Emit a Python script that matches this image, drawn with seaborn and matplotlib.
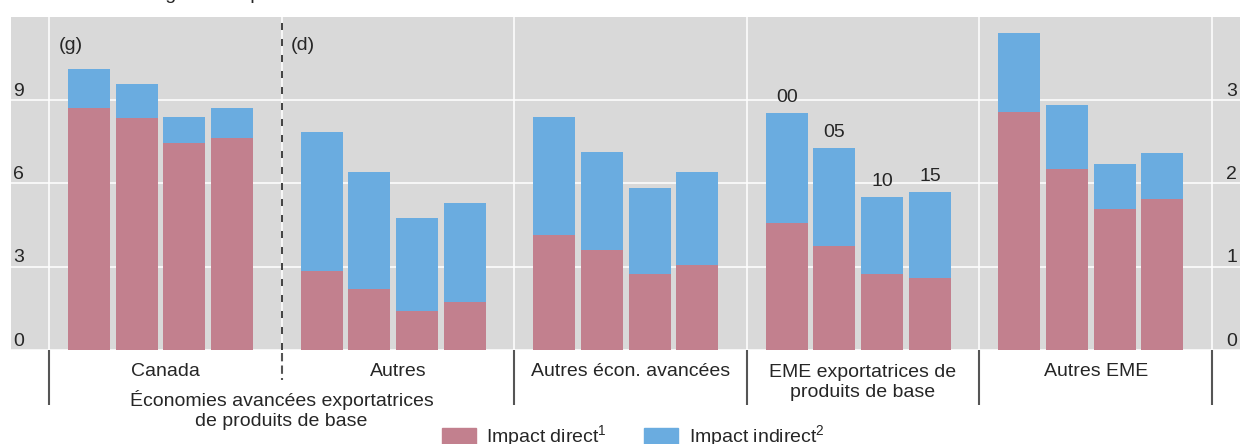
import numpy as np
import pandas as pd
import matplotlib
matplotlib.use("Agg")
import matplotlib.pyplot as plt
from matplotlib.patches import Patch
import seaborn as sns

# categories
groups = ["Canada", "Autres", "Autres écon. avancées",
          "EME exportatrices de\nproduits de base", "Autres EME"]
years = ["00", "05", "10", "15"]
sides = ["g", "d", "d", "d", "d"]  # Canada on left axis (g), others on right axis (d)

# values (percent)
direct = {
    "Canada": [8.71, 8.35, 7.46, 7.63],
    "Autres": [0.95, 0.73, 0.47, 0.58],
    "Autres écon. avancées": [1.38, 1.20, 0.91, 1.02],
    "EME exportatrices de\nproduits de base": [1.52, 1.25, 0.91, 0.87],
    "Autres EME": [2.86, 2.17, 1.69, 1.81],
}
indirect = {
    "Canada": [1.43, 1.22, 0.93, 1.08],
    "Autres": [1.67, 1.41, 1.12, 1.19],
    "Autres écon. avancées": [1.42, 1.18, 1.03, 1.12],
    "EME exportatrices de\nproduits de base": [1.33, 1.18, 0.93, 1.03],
    "Autres EME": [0.95, 0.77, 0.54, 0.56],
}
left_ticks = [0, 3, 6, 9]
right_ticks = [0, 1, 2, 3]

PINK = "#C2808E"
BLUE = "#6AACE0"
GRAY = "#D9D9D9"

sns.set_style("darkgrid", {"axes.facecolor": GRAY, "grid.color": "white"})
plt.rcParams["font.family"] = ["Liberation Sans", "DejaVu Sans"]
plt.rcParams["mathtext.fontset"] = "custom"
plt.rcParams["mathtext.rm"] = "Liberation Sans"
FS = 14
LSP = 1.23          # line spacing for two-line labels
LINE_PT = 14.8      # resulting gap between baselines, in points

# layout: one unit per bar, groups spaced GROUP_STEP apart
GROUP_STEP = 4.876
FIRST_OFF = 0.839

rows = []
for g, name in enumerate(groups):
    for i, yr in enumerate(years):
        rows.append({"group": name, "year": yr, "side": sides[g],
                     "pos": g * GROUP_STEP + i,
                     "direct": direct[name][i], "indirect": indirect[name][i]})
df = pd.DataFrame(rows)
df["total"] = df["direct"] + df["indirect"]

fig = plt.figure(figsize=(12.4, 4.44), dpi=100)
ax = fig.add_axes([11 / 1240, 1 - 350 / 444, 1229 / 1240, 333 / 444])
ax2 = ax.twinx()

for axis, side in [(ax, "g"), (ax2, "d")]:
    sub = df[df["side"] == side]
    sns.barplot(data=sub, x="pos", y="total", native_scale=True, orient="x",
                color=BLUE, width=0.88, saturation=1, linewidth=0,
                errorbar=None, ax=axis)
    sns.barplot(data=sub, x="pos", y="direct", native_scale=True, orient="x",
                color=PINK, width=0.88, saturation=1, linewidth=0,
                errorbar=None, ax=axis)
    axis.set_xlabel("")
    axis.set_ylabel("")
    for s in axis.spines.values():
        s.set_visible(False)

bounds = np.array([-FIRST_OFF + k * GROUP_STEP for k in range(len(groups) + 1)])
px = 1 / 47.7
ax.set_xlim(-FIRST_OFF - 38 * px, -FIRST_OFF + (1240 - 49) * px)
ax.set_ylim(0, 12)
ax2.set_ylim(0, 4)

ax.set_yticks(left_ticks)
ax.tick_params(axis="y", left=False, labelleft=False)
ax2.set_yticks(right_ticks)
ax2.tick_params(axis="y", right=False, labelright=False)
ax2.grid(False)

solid = [b for k, b in enumerate(bounds) if k != 1]
ax.set_xticks(solid)
ax.tick_params(axis="x", bottom=True, length=39.5, width=1.5, color="#555555",
               direction="out", labelbottom=False)
ax.grid(axis="both", color="white", linewidth=1.1)
ax.axvline(bounds[1], color="white", linewidth=1.1, zorder=0.5)
ax.axvline(bounds[1], color="#222222", linewidth=1.2, linestyle=(0, (4.2, 5.4)))
ax.plot([bounds[1], bounds[1]], [-0.01, -0.09], transform=ax.get_xaxis_transform(),
        color="#555555", linewidth=1.5, linestyle=(0, (4.0, 2.0)), clip_on=False)

# tick labels inside the panel
for v in left_ticks:
    ax.annotate(str(v), xy=(0, v), xycoords=ax.get_yaxis_transform(),
                xytext=(1.5, 3.2), textcoords="offset points",
                ha="left", va="baseline", fontsize=FS)
for v in right_ticks:
    ax2.annotate(str(v), xy=(1, v), xycoords=ax2.get_yaxis_transform(),
                 xytext=(-2.0, 3.2), textcoords="offset points",
                 ha="right", va="baseline", fontsize=FS)

# (g) / (d) markers
for k, lab in [(0, "(g)"), (1, "(d)")]:
    ax.annotate(lab, xy=(bounds[k], 1), xycoords=ax.get_xaxis_transform(),
                xytext=(6.9, -23.4), textcoords="offset points",
                ha="left", va="baseline", fontsize=FS)

# year labels above one group
eme = df[df["group"] == groups[3]]
for _, r in eme.iterrows():
    ax2.annotate(r["year"], xy=(r["pos"], r["total"]), xytext=(0, 7.5),
                 textcoords="offset points", ha="center", va="baseline", fontsize=FS)

# category labels under the panel (baseline refers to the last line)
for g, name in enumerate(groups):
    extra = name.count("\n") * LINE_PT
    ax.annotate(name, xy=((bounds[g] + bounds[g + 1]) / 2, 0),
                xycoords=ax.get_xaxis_transform(), xytext=(0, -18.7 - extra),
                textcoords="offset points", ha="center", va="baseline",
                fontsize=FS, linespacing=LSP, annotation_clip=False)
ax.annotate("Économies avancées exportatrices\nde produits de base",
            xy=(bounds[1], 0), xycoords=ax.get_xaxis_transform(),
            xytext=(0, -39.6 - LINE_PT), textcoords="offset points", ha="center",
            va="baseline", fontsize=FS, linespacing=LSP, annotation_clip=False)

# unit line, mostly above the top edge
fig.text(76 / 1240, 1 + 1 / 444, "Pourcentage des exportations",
         ha="left", va="baseline", fontsize=FS)

handles = [Patch(color=PINK, label=r"Impact direct$^\mathregular{1}$"),
           Patch(color=BLUE, label=r"Impact indirect$^\mathregular{2}$")]
fig.legend(handles=handles, ncol=2, loc="center",
           bbox_to_anchor=(633 / 1240, 7 / 444), frameon=False, fontsize=FS,
           handlelength=1.75, handleheight=0.95, handletextpad=0.55,
           columnspacing=1.9, borderpad=0)

fig.savefig("out.png", dpi=100)
plt.close(fig)
